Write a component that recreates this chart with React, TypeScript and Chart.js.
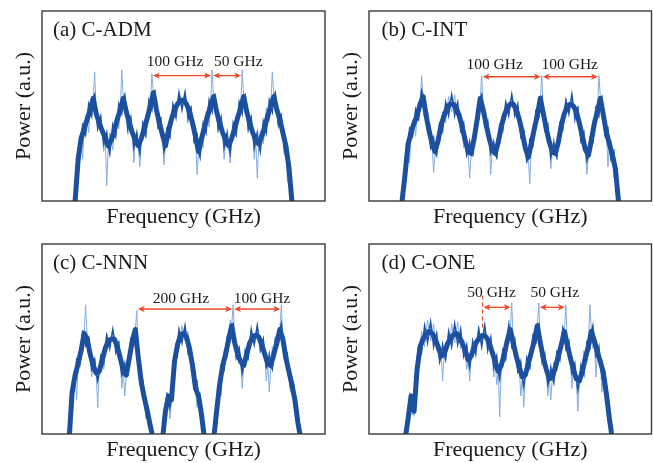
import React, { useEffect, useRef } from 'react';
import { Chart, registerables } from 'chart.js';

Chart.register(...registerables);

// ---------- data (arbitrary frequency units along x, power 0-100 along y) ----------
const STEP = 5;

// (a) C-ADM
const aStart = 55;
const aMean = [0, 22, 33, 38, 43, 48, 54, 46, 41, 37, 33, 29, 32, 37, 43, 48, 54, 47, 41, 36, 32, 29, 33, 38, 44, 50, 57, 48, 41, 35, 29, 37, 43, 48, 51, 53, 53, 51, 47, 41, 34, 26, 33, 39, 45, 50, 55, 47, 41, 36, 32, 29, 33, 38, 44, 49, 55, 47, 41, 36, 32, 30, 34, 39, 45, 50, 55, 48, 43, 36, 29, 18, 0];
const aCore = [16, 22, 40, 35, 51, 45, 56, 38, 44, 30, 36, 25, 40, 34, 51, 46, 56, 38, 44, 28, 36, 25, 41, 35, 53, 48, 58, 39, 43, 26, 38, 34, 51, 44, 57, 48, 57, 43, 49, 32, 35, 23, 41, 36, 53, 47, 56, 38, 44, 28, 36, 25, 41, 35, 52, 46, 56, 38, 44, 28, 36, 26, 42, 36, 53, 47, 57, 40, 45, 27, 29, 4];
const aNoise = [14, 34, 22, 45, 36, 44, 68, 38, 46, 26, 8, 36, 27, 44, 38, 69, 52, 35, 44, 20, 35, 18, 42, 33, 52, 67, 56, 38, 44, 19, 36, 33, 50, 44, 57, 49, 58, 45, 50, 30, 14, 33, 28, 47, 39, 69, 52, 36, 44, 22, 35, 20, 40, 34, 52, 69, 53, 36, 44, 22, 12, 37, 30, 49, 42, 68, 54, 40, 43, 24, 10, 14];

// (b) C-INT
const bStart = 55;
const bMean = [0, 14, 30, 36, 41, 45, 51, 55, 45, 37, 30, 26, 32, 40, 45, 49, 51, 51, 49, 45, 39, 32, 26, 25, 33, 43, 54, 48, 40, 33, 27, 25, 31, 39, 45, 49, 51, 51, 48, 43, 36, 28, 23, 30, 38, 45, 54, 46, 38, 31, 26, 25, 31, 40, 46, 50, 51, 50, 47, 41, 34, 27, 24, 32, 41, 47, 54, 45, 36, 30, 24, 17, 0];
const bCore = [12, 17, 38, 34, 48, 43, 58, 45, 46, 28, 33, 24, 41, 37, 52, 45, 56, 45, 52, 37, 41, 24, 31, 24, 43, 43, 56, 39, 42, 25, 31, 23, 40, 37, 52, 45, 56, 45, 51, 34, 37, 21, 32, 29, 47, 44, 55, 37, 40, 23, 31, 23, 41, 38, 53, 46, 56, 43, 49, 32, 36, 21, 33, 31, 49, 45, 55, 35, 38, 22, 26, 4];
const bNoise = [8, 28, 20, 42, 34, 52, 66, 50, 35, 38, 15, 33, 30, 47, 41, 55, 47, 56, 44, 46, 28, 32, 12, 31, 35, 50, 66, 41, 39, 14, 30, 22, 40, 38, 52, 47, 56, 46, 50, 33, 35, 20, 9, 36, 38, 50, 66, 37, 38, 17, 31, 22, 40, 40, 54, 46, 56, 45, 50, 30, 33, 14, 34, 33, 49, 66, 49, 33, 18, 32, 12, 10];

// (c) C-NNN
const cStart = 45;
const cMean = [-3, 22, 31, 37, 44, 53, 50, 42, 36, 32, 33, 39, 45, 49, 50, 50, 46, 40, 33, 31, 40, 49, 55, 40, 27, 19, 12, 4, -3, null, null, -3, 12, 20, 18, 38, 47, 52, 53, 51, 45, 36, 24, 20, 10, -3, null, null, -3, 12, 26, 36, 42, 50, 57, 48, 42, 38, 36, 42, 48, 51, 52, 51, 47, 42, 37, 36, 42, 48, 55, 50, 40, 33, 26, 18, 6, -3];
const cCore = [14, 22, 39, 36, 54, 47, 51, 34, 39, 28, 41, 37, 52, 45, 55, 43, 48, 31, 37, 31, 50, 47, 53, 28, 28, 11, 12, -3, null, null, null, 2, 21, 14, 33, 38, 55, 48, 57, 43, 45, 25, 27, 10, 6, null, null, null, 7, 14, 36, 34, 51, 49, 58, 40, 45, 32, 44, 40, 55, 47, 57, 44, 50, 35, 42, 34, 50, 47, 58, 40, 42, 25, 27, 8, 3];
const cNoise = [8, 30, 18, 44, 48, 68, 44, 30, 40, 14, 38, 34, 53, 46, 55, 45, 49, 24, 20, 36, 45, 50, 65, 30, 25, 8, 10, -3, null, null, null, 4, 22, 8, 28, 48, 45, 57, 49, 54, 40, 32, 14, 22, 4, null, null, null, 4, 24, 20, 44, 40, 60, 68, 42, 46, 24, 44, 40, 55, 47, 57, 46, 50, 28, 22, 46, 40, 52, 68, 44, 36, 22, 28, 8, 2];

// (d) C-ONE
const dStart = 60;
const dMean = [-3, 8, 20, 12, 34, 46, 50, 53, 54, 53, 50, 46, 41, 42, 47, 50, 52, 53, 51, 48, 44, 39, 41, 46, 49, 51, 52, 51, 48, 43, 38, 33, 36, 42, 49, 55, 48, 41, 35, 30, 31, 37, 43, 49, 57, 48, 40, 34, 29, 30, 35, 41, 47, 54, 47, 40, 34, 29, 28, 33, 40, 46, 54, 49, 43, 38, 32, 21, 8, -3];
const dCore = [6, 10, 20, 18, 45, 43, 57, 48, 59, 46, 53, 38, 47, 39, 54, 46, 58, 47, 55, 41, 47, 35, 49, 42, 55, 46, 57, 44, 51, 35, 41, 29, 44, 40, 57, 46, 50, 33, 38, 25, 40, 35, 51, 48, 58, 39, 42, 26, 35, 27, 43, 39, 56, 45, 49, 32, 37, 23, 36, 31, 48, 45, 57, 41, 46, 30, 32, 9, 5];
const dNoise = [4, 22, 10, 30, 38, 54, 46, 60, 49, 58, 44, 40, 28, 48, 45, 58, 48, 59, 45, 50, 34, 28, 45, 44, 57, 47, 58, 45, 47, 30, 26, 9, 40, 38, 60, 69, 42, 37, 20, 14, 36, 34, 53, 52, 69, 36, 38, 20, 18, 38, 33, 44, 52, 68, 43, 24, 35, 12, 30, 44, 38, 68, 45, 30, 44, 22, 34, 6, 0];

// annotations (x in same frequency units, y in power units)
const aArrows = [[182.5, 282.5], [282.5, 332.5]];
const aArrowY = 66;
const aLabels = ['100 GHz', '50 GHz'];
const aLabelX = [221, 326];
const aLabelY = 71;

const bArrows = [[187.5, 287.5], [287.5, 382.5]];
const bArrowY = 65.4;
const bLabels = ['100 GHz', '100 GHz'];
const bLabelX = [209, 334];
const bLabelY = 69.5;

const cArrows = [[157.5, 317.5], [317.5, 397.5]];
const cArrowY = 65.8;
const cLabels = ['200 GHz', '100 GHz'];
const cLabelX = [230.6, 365.4];
const cLabelY = 69.1;

const dArrows = [[188.8, 237.5], [282.5, 327.5]];
const dArrowY = 66.7;
const dLabels = ['50 GHz', '50 GHz'];
const dLabelX = [204, 309];
const dLabelY = 72.3;
const dDashX = 188.8;
const dDashRange = [56, 74];

const panelTitles = ['(a) C-ADM', '(b) C-INT', '(c) C-NNN', '(d) C-ONE'];
const xTitle = 'Frequency (GHz)';
const yTitle = 'Power (a.u.)';

// ---------- rendering ----------
const SERIF = '"Liberation Serif", "DejaVu Serif", "Times New Roman", serif';
const DARK = '#1b4f9e';
const CORE = '#1d52a3';
const LIGHT = '#86addf';
const RED = '#ee4a2a';

type Arr = (number | null)[];
type PanelDef = {
  title: string;
  start: number;
  mean: Arr;
  core: Arr;
  noise: Arr;
  arrows: number[][];
  arrowY: number;
  labels: string[];
  labelX: number[];
  labelY: number;
  dashX?: number;
  dashRange?: number[];
  left: number;
  top: number;
  width: number;
  height: number;
  padRight: number;
  titleDx: number;
};

const panels: PanelDef[] = [
  { title: panelTitles[0], start: aStart, mean: aMean, core: aCore, noise: aNoise, arrows: aArrows, arrowY: aArrowY, labels: aLabels, labelX: aLabelX, labelY: aLabelY, left: 0, top: 0, width: 330, height: 230, padRight: 5, titleDx: 11 },
  { title: panelTitles[1], start: bStart, mean: bMean, core: bCore, noise: bNoise, arrows: bArrows, arrowY: bArrowY, labels: bLabels, labelX: bLabelX, labelY: bLabelY, left: 327, top: 0, width: 326, height: 230, padRight: 1.5, titleDx: 12.5 },
  { title: panelTitles[2], start: cStart, mean: cMean, core: cCore, noise: cNoise, arrows: cArrows, arrowY: cArrowY, labels: cLabels, labelX: cLabelX, labelY: cLabelY, left: 0, top: 233, width: 330, height: 230, padRight: 5, titleDx: 11 },
  { title: panelTitles[3], start: dStart, mean: dMean, core: dCore, noise: dNoise, arrows: dArrows, arrowY: dArrowY, labels: dLabels, labelX: dLabelX, labelY: dLabelY, dashX: dDashX, dashRange: dDashRange, left: 327, top: 233, width: 326, height: 230, padRight: 1.5, titleDx: 12.5 },
];

// interleave the bin means with the in-between samples
function buildTrace(start: number, mean: Arr, between: Arr) {
  const pts: { x: number; y: number | null }[] = [];
  mean.forEach((m, i) => {
    pts.push({ x: start + i * STEP, y: m });
    if (i < between.length) pts.push({ x: start + i * STEP + STEP / 2, y: between[i] });
  });
  return pts;
}

function buildMean(start: number, mean: Arr) {
  return mean.map((m, i) => ({ x: start + i * STEP, y: m }));
}

function drawHead(ctx: CanvasRenderingContext2D, x: number, y: number, dir: number) {
  const len = 7;
  const half = 3.2;
  ctx.beginPath();
  ctx.moveTo(x, y);
  ctx.lineTo(x - dir * len, y - half);
  ctx.lineTo(x - dir * (len - 2), y);
  ctx.lineTo(x - dir * len, y + half);
  ctx.closePath();
  ctx.fill();
}

function PanelChart({ p }: { p: PanelDef }) {
  const ref = useRef<HTMLCanvasElement>(null);
  useEffect(() => {
    if (!ref.current) return;
    const decor = {
      id: 'decor',
      afterDraw(chart: any) {
        const { ctx, chartArea: a, scales } = chart;
        const xs = scales.x;
        const ys = scales.y;
        ctx.save();
        ctx.strokeStyle = '#3a3a3a';
        ctx.lineWidth = 1.4;
        ctx.strokeRect(a.left, a.top, a.right - a.left, a.bottom - a.top);
        ctx.fillStyle = '#1a1a1a';
        ctx.font = `21px ${SERIF}`;
        ctx.textAlign = 'left';
        ctx.textBaseline = 'alphabetic';
        ctx.fillText(p.title, a.left + p.titleDx, a.top + 25);
        if (p.dashX !== undefined && p.dashRange) {
          ctx.strokeStyle = RED;
          ctx.lineWidth = 1.2;
          ctx.setLineDash([4, 3]);
          const dx = xs.getPixelForValue(p.dashX);
          ctx.beginPath();
          ctx.moveTo(dx, ys.getPixelForValue(p.dashRange[0]));
          ctx.lineTo(dx, ys.getPixelForValue(p.dashRange[1]));
          ctx.stroke();
          ctx.setLineDash([]);
        }
        ctx.strokeStyle = RED;
        ctx.fillStyle = RED;
        ctx.lineWidth = 1.3;
        const ay = ys.getPixelForValue(p.arrowY);
        p.arrows.forEach(([x0, x1]) => {
          const px0 = xs.getPixelForValue(x0) + 1;
          const px1 = xs.getPixelForValue(x1) - 1;
          ctx.beginPath();
          ctx.moveTo(px0 + 4, ay);
          ctx.lineTo(px1 - 4, ay);
          ctx.stroke();
          drawHead(ctx, px0, ay, -1);
          drawHead(ctx, px1, ay, 1);
        });
        ctx.fillStyle = '#1a1a1a';
        ctx.font = `15.5px ${SERIF}`;
        ctx.textAlign = 'center';
        const ly = ys.getPixelForValue(p.labelY);
        p.labels.forEach((t, i) => {
          ctx.fillText(t, xs.getPixelForValue(p.labelX[i]), ly);
        });
        ctx.restore();
      },
    };
    const common = { pointRadius: 0, tension: 0, spanGaps: false, clip: 0 };
    const chart = new Chart(ref.current, {
      type: 'line',
      data: {
        datasets: [
          {
            ...common,
            data: buildTrace(p.start, p.mean, p.core) as any,
            borderColor: CORE,
            borderWidth: 1.5,
            order: 1,
          },
          {
            ...common,
            data: buildMean(p.start, p.mean) as any,
            borderColor: DARK,
            borderWidth: 5,
            borderJoinStyle: 'round',
            borderCapStyle: 'round',
            order: 2,
          },
          {
            ...common,
            data: buildTrace(p.start, p.mean, p.noise) as any,
            borderColor: LIGHT,
            borderWidth: 1,
            order: 3,
          },
        ] as any,
      },
      options: {
        animation: false,
        responsive: false,
        events: [],
        layout: { padding: { top: 11, right: p.padRight, left: 0, bottom: 0 } },
        plugins: { legend: { display: false }, tooltip: { enabled: false }, title: { display: false } },
        scales: {
          x: {
            type: 'linear',
            min: 0,
            max: 470,
            grid: { display: false, drawTicks: false },
            border: { display: false },
            ticks: { display: false },
            title: {
              display: true,
              text: xTitle,
              color: '#1a1a1a',
              font: { family: SERIF, size: 22, lineHeight: 1 },
              padding: { top: 5.5, bottom: 1.5 },
            },
          },
          y: {
            type: 'linear',
            min: 0,
            max: 100,
            grid: { display: false, drawTicks: false },
            border: { display: false },
            ticks: { display: false },
            title: {
              display: true,
              text: yTitle,
              color: '#1a1a1a',
              font: { family: SERIF, size: 22, lineHeight: 1 },
              padding: { top: 13.5, bottom: 6.5 },
            },
          },
        },
      },
      plugins: [decor],
    });
    return () => chart.destroy();
  }, [p]);
  return (
    <canvas
      ref={ref}
      width={p.width}
      height={p.height}
      style={{ position: 'absolute', left: p.left, top: p.top, width: p.width, height: p.height }}
    />
  );
}

export default function App() {
  return (
    <div style={{ position: 'fixed', left: 0, top: 0, width: 653, height: 463, background: '#fff' }}>
      {panels.map((p) => (
        <PanelChart key={p.title} p={p} />
      ))}
    </div>
  );
}
